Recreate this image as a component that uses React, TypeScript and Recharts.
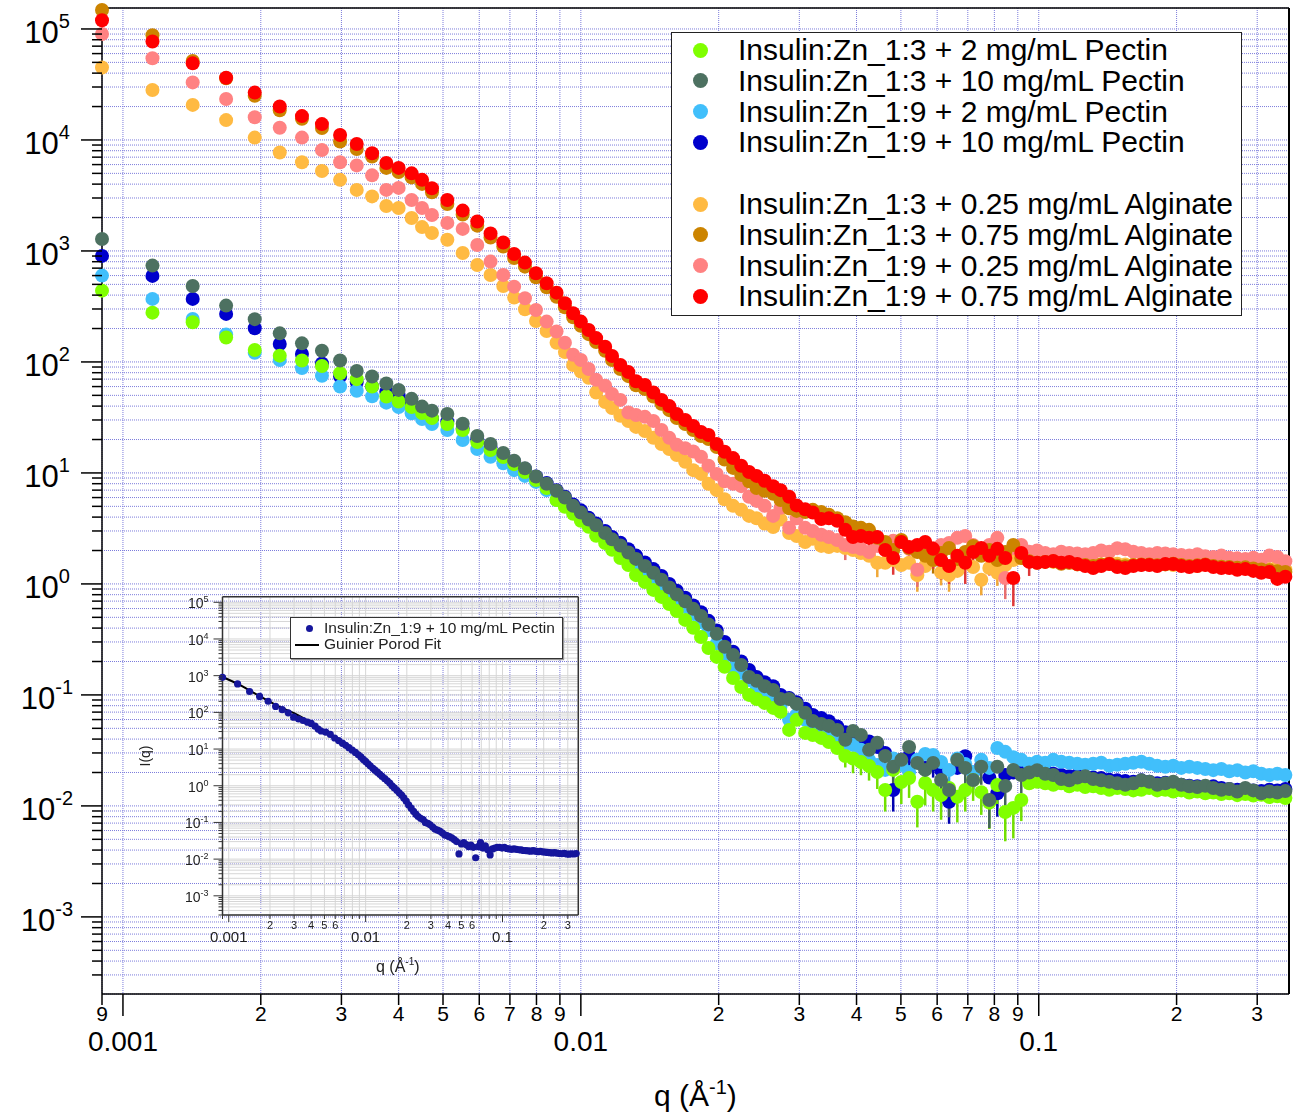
import React from 'react';
import { ScatterChart, ComposedChart, Scatter, Line, XAxis, YAxis, CartesianGrid, ReferenceLine, ErrorBar } from 'recharts';

const FONT = '"Liberation Sans", Arial, Helvetica, sans-serif';

// ---------- data ----------
const q = [
  0.0009, 0.00116, 0.00142, 0.00168, 0.00194, 0.0022, 0.00246, 0.00272, 0.00298, 0.00324, 0.0035, 0.00376,
  0.004, 0.00427, 0.0045, 0.00473, 0.00511, 0.00552, 0.00594, 0.00635, 0.00677, 0.00715, 0.00755, 0.00798, 0.00842, 0.00885, 0.00923, 0.00962, 0.01,
  0.0104, 0.0108, 0.0113, 0.0117, 0.0122, 0.0127, 0.0132, 0.0138, 0.0144, 0.015,
  0.0156, 0.0162, 0.0169, 0.0176, 0.0183, 0.019, 0.0198, 0.0206, 0.0215, 0.0224,
  0.0233, 0.0242, 0.0252, 0.0263, 0.0273, 0.0285, 0.0296, 0.0309, 0.0321, 0.0335,
  0.0348, 0.0363, 0.0378, 0.0393, 0.0409, 0.0426, 0.0444, 0.0462, 0.0481, 0.0501,
  0.0521, 0.0543, 0.0565, 0.0588, 0.0612, 0.0637, 0.0664, 0.0691, 0.0719, 0.0749,
  0.078, 0.0812, 0.0845, 0.088, 0.0916, 0.0953, 0.0992, 0.1033, 0.1076, 0.112,
  0.1166, 0.1214, 0.1263, 0.1315, 0.1369, 0.1426, 0.1484, 0.1545, 0.1609, 0.1675,
  0.1744, 0.1815, 0.189, 0.1967, 0.2048, 0.2132, 0.222, 0.2311, 0.2406, 0.2505,
  0.2607, 0.2714, 0.2826, 0.2942, 0.3063, 0.3188, 0.3319, 0.3456,
];

const pectin13_2 = [
  439, 278, 228, 166, 128, 114, 103, 92, 79, 70, 60, 48.8,
  44, 39.3, 34.7, 31.3, 27.6, 24.4, 19.0, 16.1, 13.9, 12.0, 10.2, 8.65, 7.3, 5.7, 4.95, 4.28, 3.7,
  3.27, 2.71, 2.34, 2.03, 1.71, 1.48, 1.2, 1.04, 0.883, 0.764,
  0.66, 0.571, 0.474, 0.402, 0.333, 0.265, 0.22, 0.179, 0.142, 0.118,
  0.1, 0.092, 0.0847, 0.0764, 0.0703, 0.0484, 0.0596, 0.0455, 0.0436, 0.041,
  0.0377, 0.0332, 0.0282, 0.0267, 0.0249, 0.0229, 0.0202, 0.0139, 0.0211, 0.0164,
  0.0178, 0.0109, 0.0161, 0.0139, 0.0125, 0.0145, 0.0121, 0.0139, 0.0171, 0.0133,
  0.0107, 0.0154, 0.0088, 0.0096, 0.0113, 0.016, 0.0165, 0.016, 0.0155, 0.016,
  0.015, 0.0155, 0.0148, 0.015, 0.0145, 0.014, 0.0145, 0.0142, 0.0138, 0.014,
  0.0145, 0.0138, 0.014, 0.0135, 0.0138, 0.0132, 0.0135, 0.013, 0.0132, 0.0128,
  0.013, 0.0125, 0.0128, 0.0124, 0.0126, 0.012, 0.0122, 0.0118,
];

const pectin13_10 = [
  1280, 738, 484, 322, 243, 181, 147, 126, 103, 83, 74, 64,
  56, 46.5, 39.6, 36.4, 34, 27.7, 21.5, 18.2, 15.1, 12.9, 11.0, 9.3, 8.0, 6.9, 6.0, 5.05, 4.39,
  3.81, 3.37, 2.88, 2.52, 2.22, 1.92, 1.68, 1.45, 1.26, 1.09,
  0.93, 0.805, 0.697, 0.596, 0.515, 0.432, 0.355, 0.272, 0.229, 0.186,
  0.145, 0.134, 0.12, 0.111, 0.092, 0.092, 0.083, 0.0689, 0.0583, 0.0548,
  0.0526, 0.0484, 0.0394, 0.0474, 0.0436, 0.032, 0.037, 0.0282, 0.0225, 0.026,
  0.034, 0.0244, 0.0211, 0.0244, 0.0171, 0.0139, 0.026, 0.022, 0.0171, 0.0225,
  0.0113, 0.0225, 0.0151, 0.0211, 0.019, 0.02, 0.021, 0.0195, 0.019, 0.0175,
  0.017, 0.018, 0.0185, 0.0175, 0.017, 0.0165, 0.016, 0.0155, 0.016, 0.017,
  0.0165, 0.0155, 0.016, 0.0165, 0.0155, 0.015, 0.0148, 0.0152, 0.0145, 0.014,
  0.0142, 0.0135, 0.0145, 0.0138, 0.013, 0.0135, 0.0132, 0.0136,
];

const pectin19_2 = [
  600, 370, 244, 177, 121, 104, 88, 75, 60, 55, 49, 43,
  39.3, 34.5, 30.6, 27.6, 24.4, 19.8, 16.4, 14.0, 12.2, 10.6, 9.4, 8.3, 7.0, 5.7, 5.15, 4.55, 4.0,
  3.55, 3.07, 2.65, 2.34, 2.03, 1.75, 1.51, 1.31, 1.13, 0.98,
  0.847, 0.733, 0.621, 0.537, 0.455, 0.385, 0.29, 0.22, 0.175, 0.158,
  0.136, 0.113, 0.106, 0.09, 0.0796, 0.0596, 0.066, 0.0596, 0.0504, 0.0484,
  0.0428, 0.0394, 0.0362, 0.0354, 0.032, 0.026, 0.0234, 0.0211, 0.0267, 0.0234,
  0.0202, 0.026, 0.0294, 0.0288, 0.0249, 0.0211, 0.0267, 0.0239, 0.0202, 0.026,
  0.022, 0.0332, 0.0307, 0.0275, 0.026, 0.024, 0.025, 0.0245, 0.026, 0.025,
  0.0245, 0.024, 0.0235, 0.024, 0.0245, 0.023, 0.0235, 0.024, 0.0245, 0.025,
  0.024, 0.023, 0.0225, 0.023, 0.022, 0.0225, 0.022, 0.0215, 0.021, 0.0215,
  0.0205, 0.021, 0.02, 0.0205, 0.0195, 0.019, 0.0195, 0.019,
];

const pectin19_10 = [
  902, 596, 370, 271, 201, 145, 118, 97, 74, 66, 60, 54,
  50, 42, 35, 31, 29, 25, 20, 17, 14.5, 12.6, 10.9, 9.3, 8.1, 7.0, 6.1, 5.2, 4.6,
  3.95, 3.5, 3.0, 2.65, 2.35, 2.05, 1.8, 1.56, 1.36, 1.18,
  1.0, 0.87, 0.75, 0.64, 0.555, 0.465, 0.38, 0.3, 0.245, 0.2,
  0.168, 0.145, 0.13, 0.12, 0.1, 0.094, 0.086, 0.075, 0.066, 0.062,
  0.058, 0.052, 0.046, 0.044, 0.041, 0.038, 0.034, 0.03, 0.0139, 0.026,
  0.028, 0.025, 0.022, 0.024, 0.021, 0.0109, 0.022, 0.028, 0.02, 0.023,
  0.018, 0.013, 0.019, 0.02, 0.021, 0.021, 0.02, 0.021, 0.0195, 0.019,
  0.0185, 0.019, 0.0185, 0.018, 0.0178, 0.0172, 0.017, 0.0168, 0.0165, 0.017,
  0.0165, 0.016, 0.0162, 0.0158, 0.0155, 0.0152, 0.015, 0.0148, 0.015, 0.0145,
  0.0142, 0.014, 0.0143, 0.0138, 0.0136, 0.014, 0.0138, 0.0142,
];

const alginate13_025 = [
  4.5e4, 2.82e4, 2.07e4, 1.51e4, 1.05e4, 7700, 6300, 5250, 4370, 3550, 3100, 2540,
  2440, 1980, 1640, 1450, 1260, 959, 748, 608, 484, 380, 298, 234, 190, 149, 123, 94, 82,
  72, 53, 43.6, 38.5, 32.7, 29.4, 26, 23.9, 20.7, 18.2,
  16.4, 14.5, 12.6, 10.6, 9.8, 8.0, 7.0, 5.8, 5.05, 4.65,
  4.1, 3.9, 3.5, 3.25, 3.8, 2.88, 2.7, 2.39, 2.55, 2.2,
  2.15, 2.2, 2.11, 2.02, 1.9, 1.79, 1.55, 1.55, 1.64, 1.48,
  1.55, 1.2, 1.45, 1.64, 1.27, 1.2, 1.31, 1.58, 1.42, 1.09,
  1.39, 1.26, 1.48, 1.64, 1.71, 1.62, 1.6, 1.62, 1.58, 1.6,
  1.55, 1.57, 1.52, 1.55, 1.5, 1.55, 1.52, 1.5, 1.48, 1.5,
  1.55, 1.5, 1.52, 1.48, 1.5, 1.47, 1.45, 1.5, 1.46, 1.44,
  1.42, 1.45, 1.4, 1.38, 1.4, 1.36, 1.42, 1.35,
];

const alginate13_075 = [
  1.48e5, 8.8e4, 5.15e4, 3.6e4, 2.5e4, 1.85e4, 1.55e4, 1.28e4, 9700, 8300, 7100, 5600,
  5150, 4600, 4020, 3380, 2650, 2130, 1690, 1320, 1095, 865, 722, 580, 471, 387, 311, 253, 212,
  178, 151, 126, 104, 86.5, 74.5, 61.6, 57, 48.8, 41.9,
  36.8, 31.3, 27.6, 24.4, 21.5, 20.2, 17.1, 13.2, 11.1, 9.6,
  8.4, 7.3, 6.9, 6.5, 5.7, 4.8, 4.55, 4.45, 4.65, 4.45,
  4.2, 3.9, 3.6, 3.3, 3.2, 3.07, 2.6, 2.39, 2.02, 2.49,
  2.11, 1.94, 1.79, 1.64, 1.9, 2.11, 1.68, 1.94, 2.2, 1.79,
  2.02, 1.64, 1.94, 2.24, 1.71, 1.6, 1.55, 1.58, 1.6, 1.52,
  1.55, 1.5, 1.48, 1.45, 1.5, 1.52, 1.46, 1.44, 1.48, 1.5,
  1.5, 1.47, 1.5, 1.52, 1.48, 1.45, 1.47, 1.5, 1.45, 1.43,
  1.42, 1.4, 1.41, 1.38, 1.35, 1.33, 1.3, 1.28,
];

const alginate19_025 = [
  9.0e4, 5.45e4, 3.3e4, 2.34e4, 1.6e4, 1.29e4, 1.05e4, 8100, 6300, 5900, 4800, 3550,
  3700, 2880, 2440, 2110, 1790, 1580, 1130, 802, 608, 477, 375, 294, 231, 188, 149, 116, 104,
  86.5, 69, 61, 51.5, 45.5, 35, 33.3, 32, 29.4, 24.4,
  20.7, 17.9, 16.7, 15.6, 14.0, 11.6, 9.8, 8.4, 8.0, 7.6,
  6.1, 5.6, 5.05, 4.1, 4.85, 3.2, 3.9, 3.2, 3.0, 2.77,
  2.65, 2.49, 2.24, 2.15, 2.07, 1.94, 2.2, 2.29, 2.45, 2.39,
  2.07, 1.34, 2.15, 2.11, 2.24, 2.34, 2.6, 2.7, 2.24, 2.02,
  2.24, 2.6, 1.13, 2.11, 2.24, 1.95, 2.0, 1.9, 1.85, 1.95,
  1.9, 1.88, 1.85, 1.9, 2.0, 1.95, 2.1, 2.05, 1.95, 1.9,
  1.85, 1.9, 1.88, 1.85, 1.82, 1.8, 1.85, 1.78, 1.75, 1.8,
  1.72, 1.7, 1.68, 1.72, 1.65, 1.8, 1.75, 1.6,
];

const alginate19_075 = [
  1.2e5, 7.7e4, 4.9e4, 3.64e4, 2.67e4, 2.0e4, 1.64e4, 1.39e4, 1.11e4, 9200, 7600, 6200,
  5600, 5000, 4370, 3670, 2880, 2310, 1840, 1440, 1190, 940, 785, 630, 512, 421, 338, 275, 231,
  194, 164, 137, 113, 94, 81, 67, 62, 53, 45.5,
  40, 34, 30, 26.5, 23.4, 22, 18.2, 15.5, 13.6, 11.6,
  10.2, 9.4, 8.5, 7.6, 7.0, 6.1, 5.1, 4.7, 4.4, 3.85,
  3.9, 3.7, 3.07, 2.65, 2.7, 2.6, 2.65, 2.02, 1.71, 2.39,
  2.15, 2.24, 2.39, 2.07, 1.64, 1.45, 1.79, 1.55, 1.94, 2.11,
  1.79, 2.07, 1.71, 1.13, 1.9, 1.58, 1.55, 1.58, 1.61, 1.55,
  1.58, 1.51, 1.45, 1.39, 1.45, 1.51, 1.42, 1.39, 1.45, 1.48,
  1.48, 1.45, 1.51, 1.51, 1.45, 1.42, 1.45, 1.48, 1.42, 1.39,
  1.39, 1.34, 1.36, 1.31, 1.26, 1.28, 1.11, 1.16,
];

// lower error bars (same units as the series) for the noisy points q[60] .. q[85]
const ERR_START = 60;
const errPectin13_2 = [0, 0.006, 0.007, 0.006, 0.006, 0.006, 0.005, 0.006, 0.006, 0.006, 0.0045, 0.006, 0.005, 0.005, 0.005, 0.005, 0.005, 0.006, 0.005, 0.0045, 0.005, 0.004, 0.0045, 0.004, 0, 0];
const errPectin13_10 = [0, 0, 0, 0, 0.01, 0, 0.008, 0.007, 0, 0.009, 0, 0.007, 0, 0.006, 0.006, 0, 0.007, 0, 0.007, 0.005, 0, 0.006, 0, 0.006, 0, 0];
const errPectin19_2 = [0, 0, 0, 0, 0, 0, 0, 0.007, 0, 0, 0, 0, 0, 0, 0.006, 0, 0, 0, 0, 0, 0, 0, 0, 0, 0, 0];
const errPectin19_10 = [0, 0, 0, 0, 0, 0, 0, 0.005, 0, 0.007, 0, 0, 0.006, 0, 0.004, 0, 0, 0.006, 0, 0, 0.005, 0.005, 0, 0, 0, 0];
const errAlginate13_025 = [0, 0, 0, 0, 0, 0.4, 0, 0, 0, 0, 0.35, 0, 0, 0.3, 0.35, 0, 0, 0, 0.3, 0, 0.3, 0, 0, 0, 0, 0];
const errAlginate13_075 = [0, 0, 0, 0, 0, 0, 0, 0.45, 0, 0, 0, 0, 0.4, 0, 0, 0, 0, 0, 0, 0, 0.4, 0, 0, 0, 0, 0];
const errAlginate19_025 = [0, 0.6, 0, 0, 0, 0, 0, 0, 0, 0, 0.4, 0, 0, 0, 0, 0, 0, 0, 0, 0, 0, 0.4, 0, 0, 0, 0];
const errAlginate19_075 = [0, 0, 0, 0, 0.5, 0, 0.55, 0.5, 0, 0.6, 0, 0.6, 0.7, 0.55, 0.45, 0, 0.55, 0.6, 0, 0.6, 0.7, 0.6, 0.5, 0, 0.4, 0];

// Guinier-Porod fit shown in the inset
const qFit = [0.0009, 0.0012, 0.0015, 0.002, 0.0025, 0.003, 0.004, 0.005, 0.006, 0.007, 0.008, 0.009, 0.01, 0.012, 0.014, 0.016, 0.018, 0.02, 0.022, 0.025, 0.028, 0.032, 0.036, 0.04, 0.045, 0.05, 0.06, 0.07, 0.08, 0.1, 0.13, 0.17, 0.22, 0.28, 0.35];
const iFit = [920, 560, 350, 195, 128, 95, 52, 30, 20, 13.5, 9.3, 6.4, 4.6, 2.4, 1.45, 0.9, 0.58, 0.37, 0.22, 0.135, 0.095, 0.066, 0.052, 0.041, 0.032, 0.027, 0.023, 0.021, 0.02, 0.019, 0.018, 0.0168, 0.0156, 0.0146, 0.014];

const seriesNames = [
  'Insulin:Zn_1:3 + 2 mg/mL Pectin',
  'Insulin:Zn_1:3 + 10 mg/mL Pectin',
  'Insulin:Zn_1:9 + 2 mg/mL Pectin',
  'Insulin:Zn_1:9 + 10 mg/mL Pectin',
  'Insulin:Zn_1:3 + 0.25 mg/mL Alginate',
  'Insulin:Zn_1:3 + 0.75 mg/mL Alginate',
  'Insulin:Zn_1:9 + 0.25 mg/mL Alginate',
  'Insulin:Zn_1:9 + 0.75 mg/mL Alginate',
];
const seriesValues = [pectin13_2, pectin13_10, pectin19_2, pectin19_10, alginate13_025, alginate13_075, alginate19_025, alginate19_075];
const seriesErrors = [errPectin13_2, errPectin13_10, errPectin19_2, errPectin19_10, errAlginate13_025, errAlginate13_075, errAlginate19_025, errAlginate19_075];
const seriesColors = ['#80FF00', '#4D7161', '#41BFFB', '#0000CC', '#FFBA42', '#CC8400', '#FF8282', '#FF0000'];
const errorColors = ['#72E000', '#44645A', '#38A8E0', '#0000B0', '#F0A838', '#B87600', '#E87070', '#E03838'];
// drawing order (first drawn = bottom)
const drawOrder = [3, 2, 0, 1, 4, 6, 5, 7];

// ---------- axes ----------
const X_DOMAIN: [number, number] = [0.0009, 0.352];
const Y_DOMAIN: [number, number] = [2.02e-4, 1.545e5];
const INSET_X_DOMAIN: [number, number] = [0.0009, 0.358];
const INSET_Y_DOMAIN: [number, number] = [3.0e-4, 1.42e5];

const X_EXPONENTS = [-4, -3, -2, -1];
const Y_EXPONENTS = [-4, -3, -2, -1, 0, 1, 2, 3, 4, 5];
const MANTISSAS = [1, 2, 3, 4, 5, 6, 7, 8, 9];
const INSET_X_MINOR_LABELS = [2, 3, 4, 5, 6];

type TickInfo = { v: number; m: number; e: number };
function logTicks(exps: number[], domain: [number, number]): TickInfo[] {
  return exps
    .flatMap((e) => MANTISSAS.map((m) => ({ v: Number(`${m}e${e}`), m, e })))
    .filter((t) => t.v >= domain[0] && t.v <= domain[1]);
}
const xTickInfo = logTicks(X_EXPONENTS, X_DOMAIN);
const yTickInfo = logTicks(Y_EXPONENTS, Y_DOMAIN);
const ixTickInfo = logTicks(X_EXPONENTS, INSET_X_DOMAIN);
const iyTickInfo = logTicks(Y_EXPONENTS, INSET_Y_DOMAIN);
const infoMap = (arr: TickInfo[]) => new Map(arr.map((t) => [t.v, t]));
const xMap = infoMap(xTickInfo);
const yMap = infoMap(yTickInfo);
const ixMap = infoMap(ixTickInfo);
const iyMap = infoMap(iyTickInfo);

const MainXTick = (props: any) => {
  const { x, y, payload } = props;
  const t = xMap.get(payload.value);
  if (!t) return null;
  const major = t.m === 1;
  return (
    <g>
      <line x1={x} x2={x} y1={y} y2={y + (major ? 22 : 11)} stroke="#000" strokeWidth={1.5} />
      {major ? (
        <text x={x} y={y + 57} textAnchor="middle" fontSize={28} fontFamily={FONT} fill="#000">{String(t.v)}</text>
      ) : (
        <text x={x} y={y + 27} textAnchor="middle" fontSize={21} fontFamily={FONT} fill="#000">{t.m}</text>
      )}
    </g>
  );
};

const MainYTick = (props: any) => {
  const { x, y, payload } = props;
  const t = yMap.get(payload.value);
  if (!t) return null;
  const major = t.m === 1;
  return (
    <g>
      <line x1={x - (major ? 21 : 10)} x2={x} y1={y} y2={y} stroke="#000" strokeWidth={1.5} />
      {major && (
        <text x={x - 55} y={y + 14} textAnchor="middle" fontSize={31} fontFamily={FONT} fill="#000">
          10<tspan dy={-15} fontSize={20}>{t.e}</tspan>
        </text>
      )}
    </g>
  );
};

const InsetXTick = (props: any) => {
  const { x, y, payload } = props;
  const t = ixMap.get(payload.value);
  if (!t) return null;
  const major = t.m === 1;
  return (
    <g>
      <line x1={x} x2={x} y1={y} y2={y + (major ? 7 : 4)} stroke="#333" strokeWidth={1} />
      {major ? (
        <text x={x} y={y + 27} textAnchor="middle" fontSize={15} fontFamily={FONT} fill="#222">{String(t.v)}</text>
      ) : INSET_X_MINOR_LABELS.includes(t.m) ? (
        <text x={x} y={y + 14} textAnchor="middle" fontSize={11} fontFamily={FONT} fill="#222">{t.m}</text>
      ) : null}
    </g>
  );
};

const InsetYTick = (props: any) => {
  const { x, y, payload } = props;
  const t = iyMap.get(payload.value);
  if (!t) return null;
  const major = t.m === 1;
  return (
    <g>
      <line x1={x - (major ? 9 : 4)} x2={x} y1={y} y2={y} stroke="#333" strokeWidth={1} />
      {major && (
        <text x={x - 14} y={y + 6} textAnchor="end" fontSize={14} fontFamily={FONT} fill="#222">
          10<tspan dy={-6} fontSize={9}>{t.e}</tspan>
        </text>
      )}
    </g>
  );
};

const dotShape = (color: string, r: number) => (p: any) =>
  p.cx == null || p.cy == null ? <g /> : <circle cx={p.cx} cy={p.cy} r={r} fill={color} />;

const toPoints = (vals: number[], errs?: number[]) =>
  q.map((x, i) => {
    const j = i - ERR_START;
    const lo = errs && j >= 0 && j < errs.length ? errs[j] : 0;
    return { q: x, I: vals[i], err: [lo, 0] };
  });
const insetData = toPoints(pectin19_10);
const fitData = qFit.map((x, i) => ({ q: x, I: iFit[i] }));

const legendRowCenters = [50.5, 81.3, 112.1, 142.9, 204.5, 235.3, 266.1, 296.9];

export default function App() {
  return (
    <div style={{ position: 'absolute', left: 0, top: 0, width: 1312, height: 1117, background: '#fff', fontFamily: FONT, overflow: 'hidden' }}>
      <ScatterChart width={1312} height={1117} margin={{ top: 8, right: 23, bottom: 93, left: 42 }}>
        <CartesianGrid stroke="#7c7cdc" strokeWidth={1} strokeDasharray="1 1" />
        <XAxis
          type="number" dataKey="q" scale="log" domain={X_DOMAIN}
          ticks={xTickInfo.map((t) => t.v)} interval={0} tick={MainXTick} tickLine={false}
          tickSize={0} tickMargin={0} height={30} axisLine={{ stroke: '#000', strokeWidth: 1.5 }}
        />
        <YAxis
          type="number" dataKey="I" scale="log" domain={Y_DOMAIN}
          ticks={yTickInfo.map((t) => t.v)} interval={0} tick={MainYTick} tickLine={false}
          tickSize={0} tickMargin={0} width={60} axisLine={{ stroke: '#000', strokeWidth: 1.5 }}
        />
        <ReferenceLine x={X_DOMAIN[1]} stroke="#000" strokeWidth={2} ifOverflow="visible" />
        <ReferenceLine y={Y_DOMAIN[1]} stroke="#000" strokeWidth={1.5} ifOverflow="visible" />
        {drawOrder.map((k) => (
          <Scatter
            key={k}
            name={seriesNames[k]}
            data={toPoints(seriesValues[k], seriesErrors[k])}
            fill={seriesColors[k]}
            shape={dotShape(seriesColors[k], 7)}
            isAnimationActive={false}
          >
            <ErrorBar dataKey="err" direction="y" width={0} stroke={errorColors[k]} strokeWidth={2.5} isAnimationActive={false} />
          </Scatter>
        ))}
      </ScatterChart>

      {/* legend */}
      <div style={{ position: 'absolute', left: 671, top: 32, width: 571, height: 284, boxSizing: 'border-box', border: '1.5px solid #222', background: '#fff' }}>
        {seriesNames.map((name, i) => (
          <div key={name} style={{ position: 'absolute', left: 0, top: legendRowCenters[i] - 33.5 - 16, height: 32, width: 560 }}>
            <div style={{ position: 'absolute', left: 21, top: 8.5, width: 15, height: 15, borderRadius: '50%', background: seriesColors[i] }} />
            <div style={{ position: 'absolute', left: 66, top: 0, lineHeight: '32px', fontSize: 30, whiteSpace: 'nowrap', color: '#000' }}>{name}</div>
          </div>
        ))}
      </div>

      {/* x axis title */}
      <div style={{ position: 'absolute', left: 654, top: 1081, fontSize: 30, lineHeight: '30px', whiteSpace: 'nowrap', color: '#000' }}>
        q (Å<span style={{ fontSize: 20, position: 'relative', top: -12 }}>-1</span>)
      </div>

      {/* inset */}
      <div style={{ position: 'absolute', left: 130, top: 590, width: 460, height: 400, filter: 'blur(0.35px)' }}>
        <ComposedChart width={460} height={400} margin={{ top: 6.7, right: 11.7, bottom: 45, left: 52.5 }}>
          <CartesianGrid stroke="#d6d6d6" strokeWidth={1} />
          <XAxis
            type="number" dataKey="q" scale="log" domain={INSET_X_DOMAIN}
            ticks={ixTickInfo.map((t) => t.v)} interval={0} tick={InsetXTick} tickLine={false}
            tickSize={0} tickMargin={0} height={30} axisLine={{ stroke: '#333', strokeWidth: 1.5 }}
          />
          <YAxis
            type="number" dataKey="I" scale="log" domain={INSET_Y_DOMAIN}
            ticks={iyTickInfo.map((t) => t.v)} interval={0} tick={InsetYTick} tickLine={false}
            tickSize={0} tickMargin={0} width={40} axisLine={{ stroke: '#333', strokeWidth: 1.5 }}
          />
          <ReferenceLine x={INSET_X_DOMAIN[1]} stroke="#333" strokeWidth={1.5} ifOverflow="visible" />
          <ReferenceLine y={INSET_Y_DOMAIN[1]} stroke="#333" strokeWidth={1.5} ifOverflow="visible" />
          <Scatter data={insetData} fill="#16169c" shape={dotShape('#16169c', 3.6)} isAnimationActive={false} />
          <Line data={fitData} dataKey="I" type="monotone" stroke="#000" strokeWidth={2} dot={false} isAnimationActive={false} />
        </ComposedChart>
      </div>
      {/* inset legend */}
      <div style={{ position: 'absolute', left: 290, top: 617, width: 273, height: 42, boxSizing: 'border-box', border: '1.5px solid #333', background: '#fff', boxShadow: '1px 1px 1px #999', filter: 'blur(0.3px)' }}>
        <div style={{ position: 'absolute', left: 14.5, top: 6.5, width: 7, height: 7, borderRadius: '50%', background: '#16169c' }} />
        <div style={{ position: 'absolute', left: 33, top: 1, fontSize: 15.5, lineHeight: '18px', whiteSpace: 'nowrap', color: '#222' }}>Insulin:Zn_1:9 + 10 mg/mL Pectin</div>
        <div style={{ position: 'absolute', left: 4, top: 25.5, width: 24, height: 2.5, background: '#000' }} />
        <div style={{ position: 'absolute', left: 33, top: 17, fontSize: 15.5, lineHeight: '18px', whiteSpace: 'nowrap', color: '#222' }}>Guinier Porod Fit</div>
      </div>
      {/* inset axis titles */}
      <div style={{ position: 'absolute', left: 125, top: 748, width: 40, textAlign: 'center', fontSize: 14, lineHeight: '16px', transform: 'rotate(-90deg)', color: '#222', filter: 'blur(0.3px)' }}>I(q)</div>
      <div style={{ position: 'absolute', left: 376, top: 958, fontSize: 16, lineHeight: '18px', whiteSpace: 'nowrap', color: '#222', filter: 'blur(0.3px)' }}>
        q (Å<span style={{ fontSize: 10, position: 'relative', top: -7 }}>-1</span>)
      </div>
    </div>
  );
}
